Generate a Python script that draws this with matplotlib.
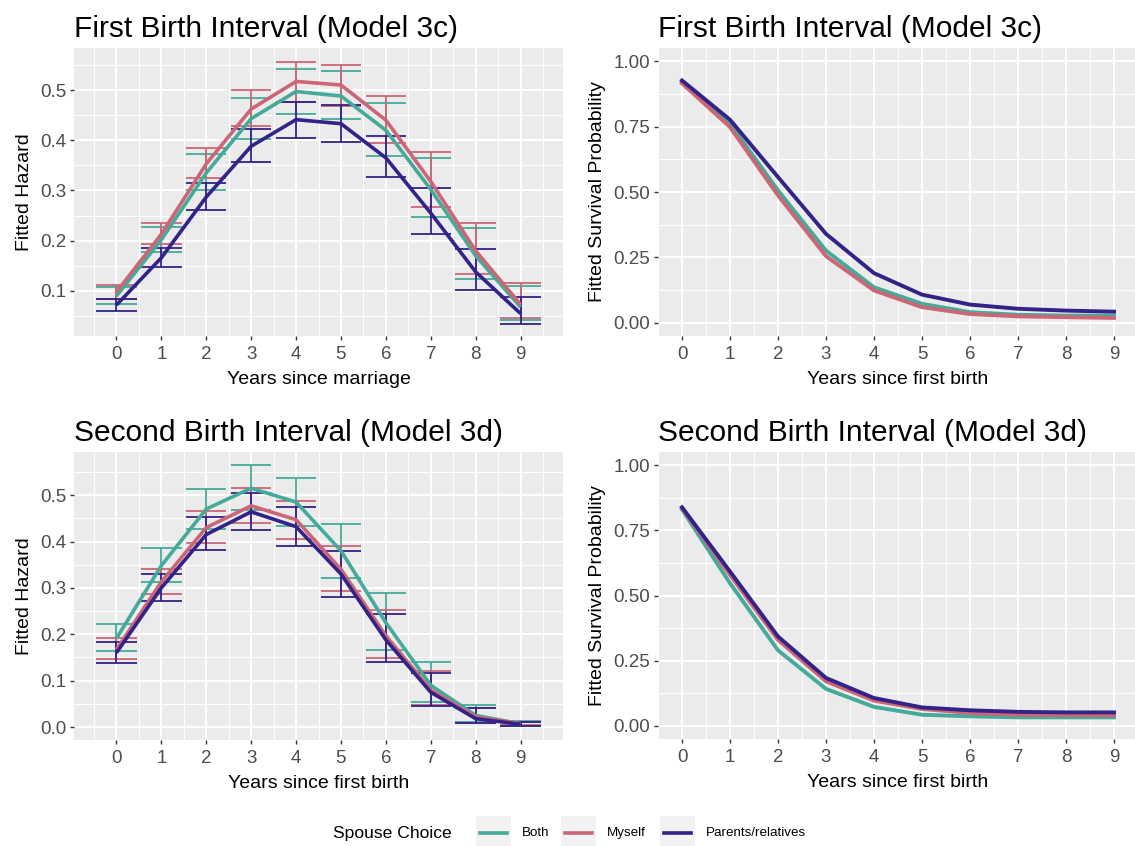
import numpy as np
import matplotlib.pyplot as plt
from matplotlib.patches import Rectangle
from matplotlib.lines import Line2D

plt.rcParams["font.family"] = ["Liberation Sans", "DejaVu Sans"]

years = list(range(10))
groups = ["Both", "Myself", "Parents/relatives"]
colours = {"Both": "#44AA99", "Myself": "#CC6677", "Parents/relatives": "#332288"}

# first birth interval: fitted hazard with 95% limits
h1_est = {
    "Both": [0.090, 0.202, 0.335, 0.443, 0.497, 0.488, 0.420, 0.302, 0.170, 0.068],
    "Myself": [0.098, 0.213, 0.353, 0.462, 0.517, 0.510, 0.440, 0.318, 0.180, 0.073],
    "Parents/relatives": [0.072, 0.166, 0.287, 0.388, 0.441, 0.433, 0.365, 0.255, 0.138, 0.055],
}
h1_lo = {
    "Both": [0.075, 0.178, 0.300, 0.402, 0.452, 0.442, 0.368, 0.248, 0.123, 0.042],
    "Myself": [0.085, 0.193, 0.325, 0.428, 0.477, 0.469, 0.395, 0.267, 0.133, 0.047],
    "Parents/relatives": [0.060, 0.148, 0.261, 0.356, 0.405, 0.396, 0.326, 0.213, 0.101, 0.035],
}
h1_hi = {
    "Both": [0.107, 0.228, 0.372, 0.485, 0.542, 0.537, 0.475, 0.364, 0.226, 0.109],
    "Myself": [0.111, 0.236, 0.384, 0.500, 0.555, 0.550, 0.488, 0.376, 0.236, 0.115],
    "Parents/relatives": [0.085, 0.186, 0.314, 0.422, 0.477, 0.470, 0.408, 0.305, 0.184, 0.088],
}

# second birth interval: fitted hazard with 95% limits
h2_est = {
    "Both": [0.191, 0.348, 0.470, 0.515, 0.485, 0.380, 0.225, 0.090, 0.025, 0.007],
    "Myself": [0.167, 0.313, 0.430, 0.477, 0.447, 0.340, 0.197, 0.080, 0.022, 0.007],
    "Parents/relatives": [0.160, 0.300, 0.415, 0.464, 0.432, 0.330, 0.188, 0.075, 0.018, 0.006],
}
h2_lo = {
    "Both": [0.163, 0.313, 0.426, 0.469, 0.433, 0.322, 0.166, 0.055, 0.011, 0.002],
    "Myself": [0.146, 0.287, 0.397, 0.439, 0.405, 0.293, 0.148, 0.047, 0.009, 0.004],
    "Parents/relatives": [0.137, 0.272, 0.381, 0.425, 0.390, 0.281, 0.141, 0.045, 0.008, 0.003],
}
h2_hi = {
    "Both": [0.223, 0.387, 0.514, 0.565, 0.537, 0.438, 0.288, 0.140, 0.047, 0.013],
    "Myself": [0.191, 0.341, 0.465, 0.516, 0.488, 0.391, 0.252, 0.121, 0.042, 0.011],
    "Parents/relatives": [0.184, 0.331, 0.453, 0.504, 0.475, 0.380, 0.243, 0.116, 0.040, 0.010],
}

# fitted survival probabilities
s1 = {
    "Both": [0.920, 0.761, 0.506, 0.276, 0.136, 0.073, 0.041, 0.031, 0.028, 0.028],
    "Myself": [0.915, 0.748, 0.487, 0.255, 0.124, 0.060, 0.034, 0.025, 0.022, 0.019],
    "Parents/relatives": [0.926, 0.776, 0.557, 0.340, 0.190, 0.108, 0.070, 0.054, 0.047, 0.043],
}
s2 = {
    "Both": [0.830, 0.547, 0.290, 0.142, 0.073, 0.043, 0.037, 0.033, 0.033, 0.033],
    "Myself": [0.835, 0.579, 0.330, 0.171, 0.097, 0.065, 0.050, 0.043, 0.042, 0.041],
    "Parents/relatives": [0.838, 0.592, 0.343, 0.184, 0.107, 0.071, 0.060, 0.054, 0.052, 0.052],
}

W, H = 1135, 846
fig = plt.figure(figsize=(W / 100, H / 100), dpi=100)


def px_axes(left, top, right, bottom):
    return fig.add_axes([left / W, 1 - bottom / H, (right - left) / W, (bottom - top) / H])


def gg_style(ax, xlim, ylim, yticks, yminor, yfmt):
    ax.set_facecolor("#EBEBEB")
    for s in ax.spines.values():
        s.set_visible(False)
    ax.set_xlim(*xlim)
    ax.set_ylim(*ylim)
    ax.set_xticks(years)
    ax.set_xticks(np.arange(-0.5, 10, 1), minor=True)
    ax.set_yticks(yticks)
    ax.set_yticklabels([yfmt.format(v) for v in yticks])
    ax.set_yticks(yminor, minor=True)
    ax.grid(which="major", color="white", lw=1.4)
    ax.grid(which="minor", color="white", lw=0.7)
    ax.set_axisbelow(True)
    ax.tick_params(which="major", length=3.2, width=1.0, color="#333333",
                   labelsize=13.5, labelcolor="#4D4D4D", pad=2.5)
    ax.tick_params(axis="x", which="major", pad=4)
    ax.tick_params(which="minor", length=0)


def hazard_panel(ax, est, lo, hi, ylim, yticks, yminor, title, xlabel):
    gg_style(ax, (-0.945, 9.945), ylim, yticks, yminor, "{:.1f}")
    x = np.array(years)
    for g in groups:
        c = colours[g]
        ax.vlines(x, lo[g], hi[g], color=c, lw=1.3, zorder=2)
        ax.hlines(lo[g], x - 0.45, x + 0.45, color=c, lw=1.3, zorder=2)
        ax.hlines(hi[g], x - 0.45, x + 0.45, color=c, lw=1.3, zorder=2)
    for g in groups:
        ax.plot(x, est[g], color=colours[g], lw=2.6, zorder=3, solid_capstyle="butt")
    ax.set_title(title, loc="left", fontsize=21.5, pad=8)
    ax.set_xlabel(xlabel, fontsize=14, labelpad=5.5)
    ax.set_ylabel("Fitted Hazard", fontsize=14, labelpad=5)


def survival_panel(ax, surv, title):
    gg_style(ax, (-0.45, 9.45), (-0.05, 1.05), [0, 0.25, 0.5, 0.75, 1.0],
             [0.125, 0.375, 0.625, 0.875], "{:.2f}")
    for g in groups:
        ax.plot(years, surv[g], color=colours[g], lw=2.8, zorder=3)
    ax.set_title(title, loc="left", fontsize=21.5, pad=8)
    ax.set_xlabel("Years since first birth", fontsize=14, labelpad=5.5)
    ax.set_ylabel("Fitted Survival Probability", fontsize=14, labelpad=5)


ax1 = px_axes(74, 48, 563, 336)
ax2 = px_axes(658, 48, 1138, 336)
ax3 = px_axes(74, 452, 563, 740)
ax4 = px_axes(658, 452, 1138, 739)

hazard_panel(ax1, h1_est, h1_lo, h1_hi, (0.0104, 0.5836),
             [0.1, 0.2, 0.3, 0.4, 0.5], [0.05, 0.15, 0.25, 0.35, 0.45, 0.55],
             "First Birth Interval (Model 3c)", "Years since marriage")
survival_panel(ax2, s1, "First Birth Interval (Model 3c)")
hazard_panel(ax3, h2_est, h2_lo, h2_hi, (-0.028, 0.593),
             [0.0, 0.1, 0.2, 0.3, 0.4, 0.5], [0.05, 0.15, 0.25, 0.35, 0.45, 0.55],
             "Second Birth Interval (Model 3d)", "Years since first birth")
survival_panel(ax4, s2, "Second Birth Interval (Model 3d)")

# legend along the bottom, drawn in pixel units
ly = H - 833
fig.text(333 / W, ly / H, "Spouse Choice", fontsize=12.6, va="center", ha="left")
key_left = [476, 561, 660]
label_left = [522, 607, 706]
for g, kx, tx in zip(groups, key_left, label_left):
    fig.add_artist(Rectangle((kx / W, (ly - 17.5) / H), 35 / W, 35 / H,
                             transform=fig.transFigure, facecolor="#F2F2F2", edgecolor="none"))
    fig.add_artist(Line2D([(kx + 4) / W, (kx + 31) / W], [ly / H, ly / H],
                          transform=fig.transFigure, color=colours[g], lw=2.6))
    fig.text(tx / W, ly / H, g, fontsize=9.6, va="center", ha="left")

fig.savefig("out.png", dpi=100)
